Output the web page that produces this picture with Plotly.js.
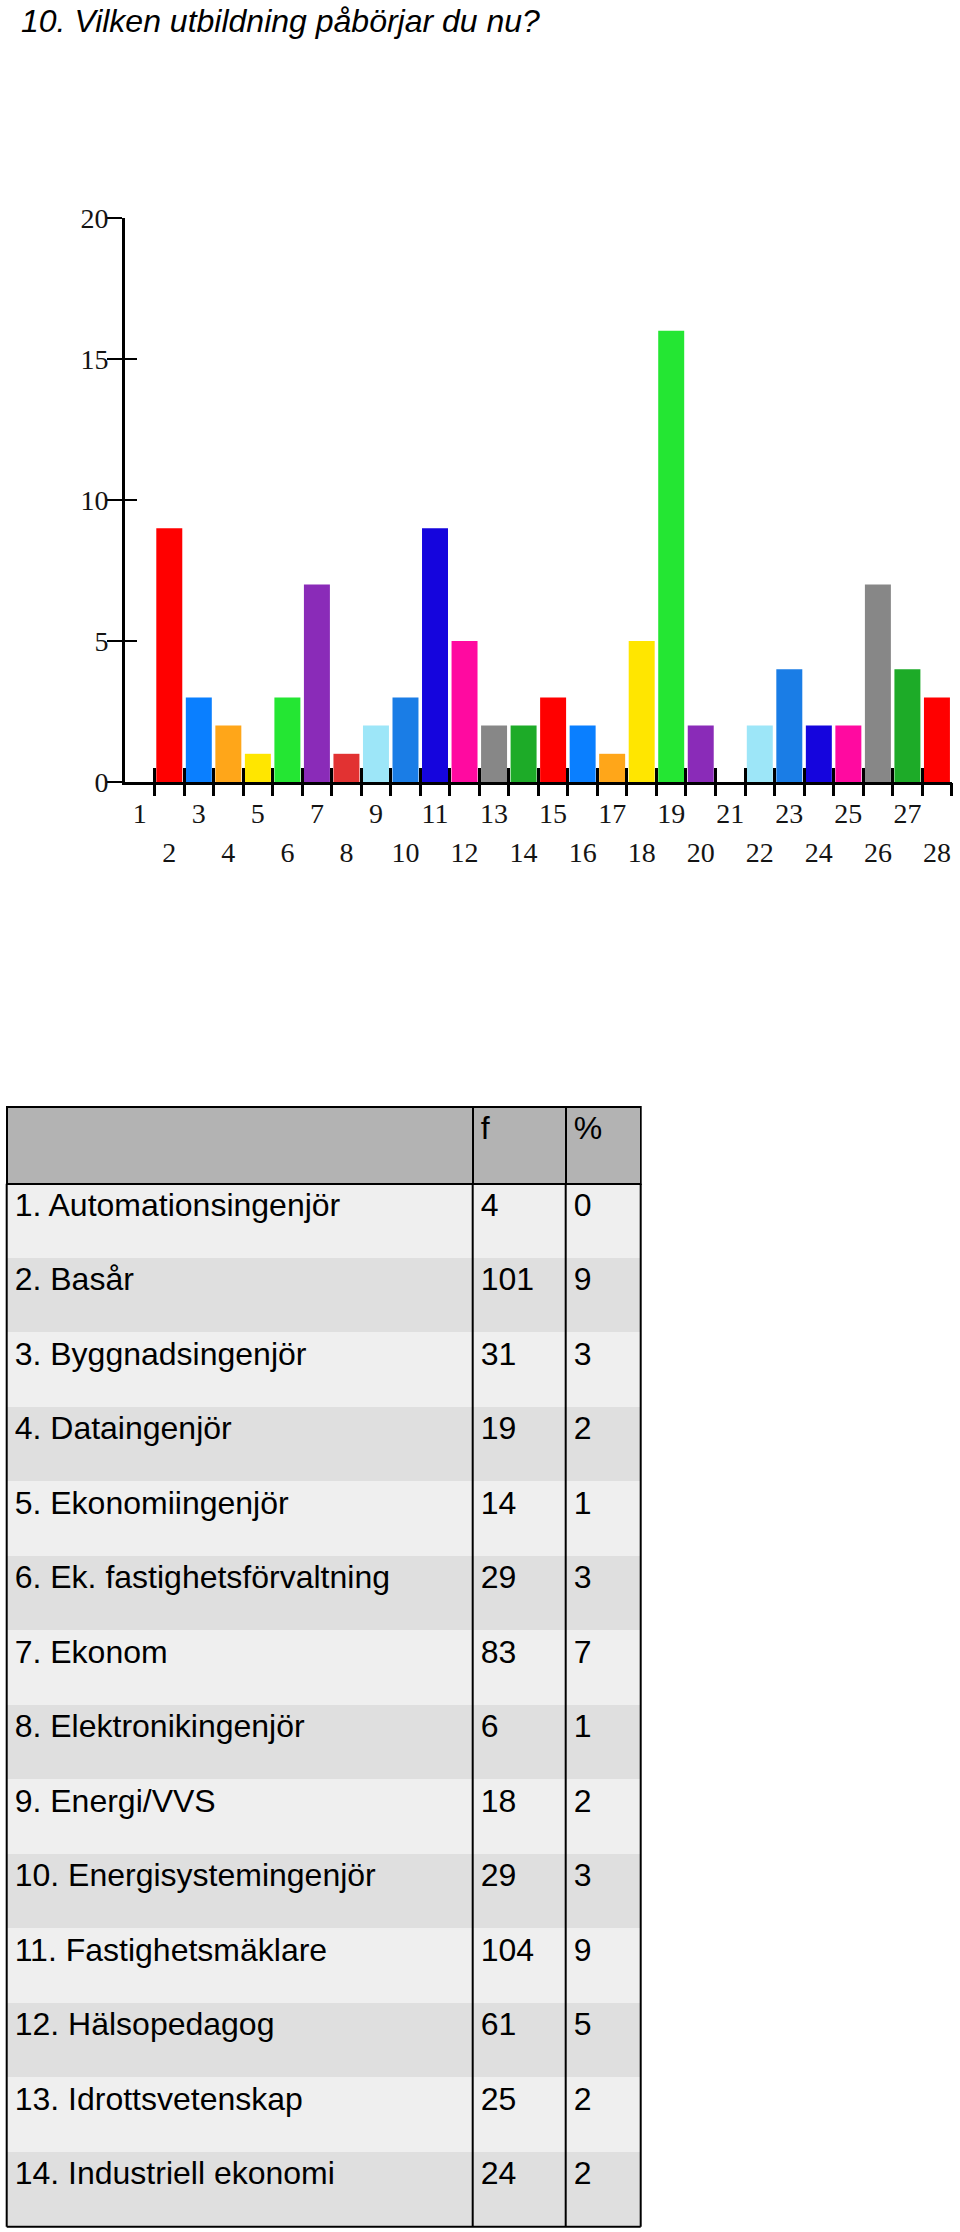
<!DOCTYPE html>
<html>
<head>
<meta charset="utf-8">
<script src="https://cdn.plot.ly/plotly-3.0.1.min.js"></script>
<style>
  html, body { margin: 0; padding: 0; background: #ffffff; }
  #chart { width: 960px; height: 2232px; }
</style>
</head>
<body>
<div id="chart"></div>
<script>
// ---------- data ----------
const titleText = '10. Vilken utbildning påbörjar du nu?';

const categories = ['1','2','3','4','5','6','7','8','9','10','11','12','13','14',
                    '15','16','17','18','19','20','21','22','23','24','25','26','27','28'];
const percentValues = [0, 9, 3, 2, 1, 3, 7, 1, 2, 3, 9, 5, 2, 2,
                       3, 2, 1, 5, 16, 2, 0, 2, 4, 2, 2, 7, 4, 3];
const barColors = ['#1dab28', '#ff0000', '#0a7fff', '#ffa619', '#ffe600', '#24e633', '#8a2bb8',
                   '#e23232', '#9de6f8', '#1a7de6', '#1505dd', '#ff0aa0', '#878787', '#1dab28',
                   '#ff0000', '#0a7fff', '#ffa619', '#ffe600', '#24e633', '#8a2bb8', '#e23232',
                   '#9de6f8', '#1a7de6', '#1505dd', '#ff0aa0', '#878787', '#1dab28', '#ff0000'];
const yTickVals = [0, 5, 10, 15, 20];

const tableHeader = ['', 'f', '%'];
const tableLabels = ['1. Automationsingenjör', '2. Basår', '3. Byggnadsingenjör', '4. Dataingenjör',
                     '5. Ekonomiingenjör', '6. Ek. fastighetsförvaltning', '7. Ekonom',
                     '8. Elektronikingenjör', '9. Energi/VVS', '10. Energisystemingenjör',
                     '11. Fastighetsmäklare', '12. Hälsopedagog', '13. Idrottsvetenskap',
                     '14. Industriell ekonomi'];
const tableF = [4, 101, 31, 19, 14, 29, 83, 6, 18, 29, 104, 61, 25, 24];
const tablePct = [0, 9, 3, 2, 1, 3, 7, 1, 2, 3, 9, 5, 2, 2];

// ---------- geometry (page pixels) ----------
const W = 960, H = 2232;
const px = v => v / W;
const py = v => 1 - v / H;

const plotLeft = 125, plotRight = 951.7, plotTop = 218, plotBottom = 782;

const tLeft = 6.7, tTop = 1106.7, tBottom = 2226.7;
const colWidths = [466, 93, 75];
const headerH = 77, rowH = 74.5;
const tRight = tLeft + colWidths.reduce((a, b) => a + b, 0);

// ---------- derived ----------
const xPos = categories.map((c, i) => i + 1);
const oddIdx = xPos.filter(v => v % 2 === 1);
const evenIdx = xPos.filter(v => v % 2 === 0);
const boundaries = xPos.map(v => v + 0.5);

const tickFont = { family: 'Liberation Serif, Times New Roman, serif', size: 28, color: '#141414' };
const tableFont = { family: 'Liberation Sans, Arial, sans-serif', size: 32, color: '#000000' };

const bars = {
  type: 'bar',
  x: xPos,
  y: percentValues,
  marker: { color: barColors, line: { width: 0 } },
  xaxis: 'x', yaxis: 'y',
  hoverinfo: 'x+y',
  showlegend: false
};

const rowFill = tableLabels.map((_, i) => (i % 2 === 0 ? '#efefef' : '#dfdfdf'));

const table = {
  type: 'table',
  domain: { x: [px(tLeft), px(tRight)], y: [py(tBottom), py(tTop)] },
  columnwidth: colWidths,
  header: {
    values: tableHeader,
    height: headerH,
    align: 'left',
    fill: { color: '#b3b3b3' },
    line: { color: '#000000', width: 2 },
    font: tableFont
  },
  cells: {
    values: [tableLabels, tableF, tablePct],
    height: rowH,
    align: 'left',
    fill: { color: [rowFill, rowFill, rowFill] },
    line: { color: [rowFill, rowFill, rowFill], width: 1 },
    font: tableFont
  }
};

// table rules: vertical column lines + outer border below header
const colEdges = [tLeft];
colWidths.forEach(w => colEdges.push(colEdges[colEdges.length - 1] + w));
const bodyTop = tTop + headerH;
const shapes = colEdges.map(x => ({
  type: 'line', xref: 'paper', yref: 'paper',
  x0: px(x), x1: px(x), y0: py(bodyTop), y1: py(tBottom),
  line: { color: '#000000', width: 2 }
}));
shapes.push({
  type: 'line', xref: 'paper', yref: 'paper',
  x0: px(tLeft), x1: px(tRight), y0: py(tBottom), y1: py(tBottom),
  line: { color: '#000000', width: 2 }
});

const baseX = {
  domain: [px(plotLeft), px(plotRight)],
  range: [0.5, 28.5],
  anchor: 'y',
  showgrid: false,
  zeroline: false,
  fixedrange: true
};

const layout = {
  width: W,
  height: H,
  margin: { l: 0, r: 0, t: 0, b: 0 },
  paper_bgcolor: '#ffffff',
  plot_bgcolor: '#ffffff',
  bargap: 0.12,
  showlegend: false,
  title: {
    text: titleText,
    font: { family: 'Liberation Sans, Arial, sans-serif', size: 32, style: 'italic', color: '#000000' },
    xref: 'container', yref: 'container',
    x: px(21), xanchor: 'left',
    y: py(21), yanchor: 'middle'
  },
  xaxis: Object.assign({}, baseX, {
    tickmode: 'array',
    tickvals: oddIdx,
    ticktext: oddIdx.map(v => categories[v - 1]),
    ticks: '',
    showline: true, linecolor: '#000000', linewidth: 3,
    tickfont: tickFont,
    ticklabelstandoff: 4
  }),
  xaxis2: Object.assign({}, baseX, {
    overlaying: 'x',
    tickmode: 'array',
    tickvals: evenIdx,
    ticktext: evenIdx.map(v => categories[v - 1]),
    ticks: '',
    showline: false,
    tickfont: tickFont,
    ticklabelstandoff: 51
  }),
  xaxis3: Object.assign({}, baseX, {
    overlaying: 'x',
    tickmode: 'array',
    tickvals: boundaries,
    ticks: 'outside', ticklen: 13, tickwidth: 3, tickcolor: '#000000',
    showticklabels: false,
    showline: false
  }),
  xaxis4: Object.assign({}, baseX, {
    overlaying: 'x',
    tickmode: 'array',
    tickvals: boundaries,
    ticks: 'inside', ticklen: 14, tickwidth: 3, tickcolor: '#000000',
    showticklabels: false,
    showline: false
  }),
  yaxis: {
    domain: [py(plotBottom), py(plotTop)],
    range: [0, 20],
    anchor: 'x',
    tickmode: 'array',
    tickvals: yTickVals,
    ticks: 'outside', ticklen: 15, tickwidth: 2.5, tickcolor: '#000000',
    showline: true, linecolor: '#000000', linewidth: 3,
    showgrid: false, zeroline: false,
    tickfont: tickFont,
    ticklabelstandoff: -7,
    fixedrange: true
  },
  yaxis2: {
    domain: [py(plotBottom), py(plotTop)],
    range: [0, 20],
    anchor: 'x',
    overlaying: 'y',
    side: 'left',
    tickmode: 'array',
    tickvals: yTickVals,
    ticks: 'inside', ticklen: 12, tickwidth: 2.5, tickcolor: '#000000',
    showticklabels: false,
    showline: false, showgrid: false, zeroline: false,
    fixedrange: true
  },
  shapes: shapes
};

const ghost = ['x2', 'x3', 'x4'].map(ax => ({
  type: 'scatter', x: [], y: [], xaxis: ax, yaxis: 'y', showlegend: false, hoverinfo: 'skip'
}));
ghost.push({ type: 'scatter', x: [], y: [], xaxis: 'x', yaxis: 'y2', showlegend: false, hoverinfo: 'skip' });

Plotly.newPlot('chart', [bars, table].concat(ghost), layout, { displayModeBar: false, staticPlot: true });
</script>
</body>
</html>
